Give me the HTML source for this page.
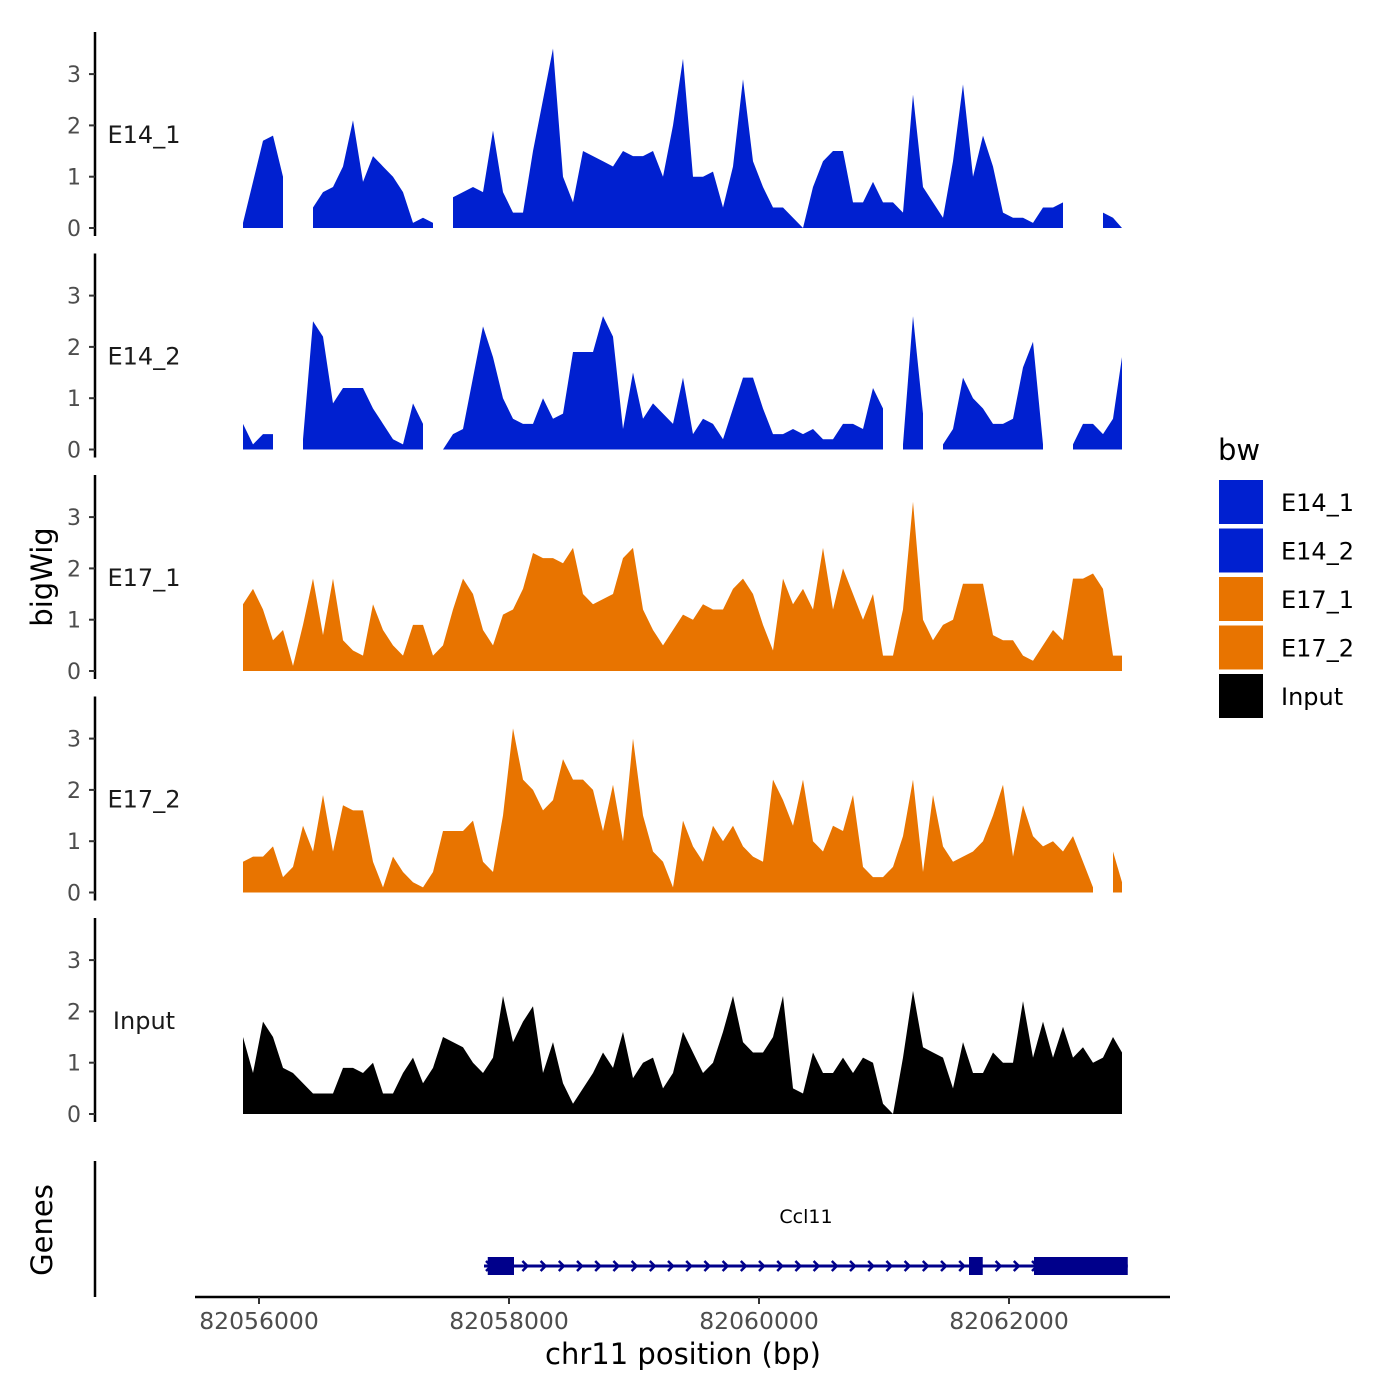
<!DOCTYPE html>
<html><head><meta charset="utf-8"><style>
html,body{margin:0;padding:0;background:#fff;}
svg{display:block;font-family:"DejaVu Sans","Liberation Sans",sans-serif;}
</style></head><body>
<svg id="chart" width="1400" height="1400" viewBox="0 0 1400 1400" xmlns="http://www.w3.org/2000/svg">
<g id="tracks"></g>
<g id="genes"></g>
<g id="xaxis"></g>
<text x="0" y="0" transform="translate(52,577) rotate(-90)" text-anchor="middle" font-size="29" fill="#000">bigWig</text>
<text x="0" y="0" transform="translate(52,1230) rotate(-90)" text-anchor="middle" font-size="29" fill="#000">Genes</text>
<text x="683" y="1364" text-anchor="middle" font-size="29" fill="#000">chr11 position (bp)</text>
<g id="legend"></g>
</svg>
<script>
const NS="http://www.w3.org/2000/svg";
const startBp=82055872, stepBp=80;
const seriesNames=["E14_1","E14_2","E17_1","E17_2","Input"];
const seriesColors=["#0020d0","#0020d0","#e87400","#e87400","#000000"];
const e14_1=[0.1,0.9,1.7,1.8,1.0,null,null,0.4,0.7,0.8,1.2,2.1,0.9,1.4,1.2,1.0,0.7,0.1,0.2,0.1,null,0.6,0.7,0.8,0.7,1.9,0.7,0.3,0.3,1.5,2.5,3.5,1.0,0.5,1.5,1.4,1.3,1.2,1.5,1.4,1.4,1.5,1.0,2.0,3.3,1.0,1.0,1.1,0.4,1.2,2.9,1.3,0.8,0.4,0.4,0.2,0.0,0.8,1.3,1.5,1.5,0.5,0.5,0.9,0.5,0.5,0.3,2.6,0.8,0.5,0.2,1.3,2.8,1.0,1.8,1.2,0.3,0.2,0.2,0.1,0.4,0.4,0.5,null,null,null,0.3,0.2,0.0];
const e14_2=[0.5,0.1,0.3,0.3,null,null,0.2,2.5,2.2,0.9,1.2,1.2,1.2,0.8,0.5,0.2,0.1,0.9,0.5,null,0.0,0.3,0.4,1.4,2.4,1.8,1.0,0.6,0.5,0.5,1.0,0.6,0.7,1.9,1.9,1.9,2.6,2.2,0.4,1.5,0.6,0.9,0.7,0.5,1.4,0.3,0.6,0.5,0.2,0.8,1.4,1.4,0.8,0.3,0.3,0.4,0.3,0.4,0.2,0.2,0.5,0.5,0.4,1.2,0.8,null,0.1,2.6,0.7,null,0.1,0.4,1.4,1.0,0.8,0.5,0.5,0.6,1.6,2.1,0.1,null,null,0.1,0.5,0.5,0.3,0.6,1.8];
const e17_1=[1.3,1.6,1.2,0.6,0.8,0.1,0.9,1.8,0.7,1.8,0.6,0.4,0.3,1.3,0.8,0.5,0.3,0.9,0.9,0.3,0.5,1.2,1.8,1.5,0.8,0.5,1.1,1.2,1.6,2.3,2.2,2.2,2.1,2.4,1.5,1.3,1.4,1.5,2.2,2.4,1.2,0.8,0.5,0.8,1.1,1.0,1.3,1.2,1.2,1.6,1.8,1.5,0.9,0.4,1.8,1.3,1.6,1.2,2.4,1.2,2.0,1.5,1.0,1.5,0.3,0.3,1.2,3.3,1.0,0.6,0.9,1.0,1.7,1.7,1.7,0.7,0.6,0.6,0.3,0.2,0.5,0.8,0.6,1.8,1.8,1.9,1.6,0.3,0.3];
const e17_2=[0.6,0.7,0.7,0.9,0.3,0.5,1.3,0.8,1.9,0.8,1.7,1.6,1.6,0.6,0.1,0.7,0.4,0.2,0.1,0.4,1.2,1.2,1.2,1.4,0.6,0.4,1.5,3.2,2.2,2.0,1.6,1.8,2.6,2.2,2.2,2.0,1.2,2.1,1.0,3.0,1.5,0.8,0.6,0.1,1.4,0.9,0.6,1.3,1.0,1.3,0.9,0.7,0.6,2.2,1.8,1.3,2.2,1.0,0.8,1.3,1.2,1.9,0.5,0.3,0.3,0.5,1.1,2.2,0.4,1.9,0.9,0.6,0.7,0.8,1.0,1.5,2.1,0.7,1.7,1.1,0.9,1.0,0.8,1.1,0.6,0.1,null,0.8,0.2];
const input=[1.5,0.8,1.8,1.5,0.9,0.8,0.6,0.4,0.4,0.4,0.9,0.9,0.8,1.0,0.4,0.4,0.8,1.1,0.6,0.9,1.5,1.4,1.3,1.0,0.8,1.1,2.3,1.4,1.8,2.1,0.8,1.4,0.6,0.2,0.5,0.8,1.2,0.9,1.6,0.7,1.0,1.1,0.5,0.8,1.6,1.2,0.8,1.0,1.6,2.3,1.4,1.2,1.2,1.5,2.3,0.5,0.4,1.2,0.8,0.8,1.1,0.8,1.1,1.0,0.2,0.0,1.1,2.4,1.3,1.2,1.1,0.5,1.4,0.8,0.8,1.2,1.0,1.0,2.2,1.1,1.8,1.1,1.7,1.1,1.3,1.0,1.1,1.5,1.2];
const allSeries=[e14_1,e14_2,e17_1,e17_2,input];
const yTicks=[0,1,2,3];
const xTicks=[82056000,82058000,82060000,82062000];
const xTickLabels=["82056000","82058000","82060000","82062000"];
const geneName="Ccl11";
const geneStart=82057800, geneEnd=82062950;
const exons=[[82057830,82058040],[82061680,82061790],[82062200,82062950]];

function xs(bp){return 259+(bp-82056000)*0.125;}
const unitPx=51.3;
function mk(tag,attrs,parent){const e=document.createElementNS(NS,tag);for(const k in attrs)e.setAttribute(k,attrs[k]);parent.appendChild(e);return e;}

const tracks=document.getElementById('tracks');
allSeries.forEach((vals,si)=>{
  const base=228+si*221.5;
  const ys=v=>base-v*unitPx;
  const g=mk('g',{},tracks);
  
  
  const ax=mk('line',{x1:95,x2:95,y1:base-196,y2:base+8,stroke:'#000','stroke-width':2.5},g);
  
  
  yTicks.forEach(t=>{
    const tk=mk('line',{x1:89,x2:95,y1:ys(t),y2:ys(t),stroke:'#333','stroke-width':2},g);
    
    
    const tl=mk('text',{x:81,y:ys(t)+8,'text-anchor':'end','font-size':22,fill:'#4d4d4d'},g);
    tl.textContent=t;
    
    
  });
  const lab=mk('text',{x:144,y:base-85,'text-anchor':'middle','font-size':24,fill:'#1a1a1a'},g);
  lab.textContent=seriesNames[si];
  
  
  let seg=[];
  const flush=()=>{
    if(seg.length>1){
      let d='M'+seg[0][0]+','+base;
      seg.forEach(p=>{d+=' L'+p[0]+','+p[1];});
      d+=' L'+seg[seg.length-1][0]+','+base+' Z';
      const p=mk('path',{d:d,fill:seriesColors[si]},g);
      
      
    }
    seg=[];
  };
  vals.forEach((v,i)=>{
    const x=Math.min(xs(startBp+i*stepBp),1122);
    if(v===null){flush();}else seg.push([x,ys(v)]);
  });
  flush();
});

const gg=document.getElementById('genes');
const gax=mk('line',{x1:95,x2:95,y1:1161,y2:1297,stroke:'#000','stroke-width':2.5},gg);


const gl=mk('text',{x:806,y:1223,'text-anchor':'middle','font-size':19,fill:'#000'},gg);
gl.textContent=geneName;


const intr=mk('line',{x1:xs(geneStart),x2:xs(geneEnd),y1:1266,y2:1266,stroke:'#00008b','stroke-width':3},gg);


for(let x=xs(geneStart)+2;x<xs(geneEnd)-8;x+=18.2){
  const a=mk('path',{d:`M${x},${1261} L${x+5},${1266} L${x},${1271}`,fill:'none',stroke:'#00008b','stroke-width':2.5},gg);
  
  
}
exons.forEach(e=>{
  const r=mk('rect',{x:xs(e[0]),y:1257,width:xs(e[1])-xs(e[0]),height:18,fill:'#00008b'},gg);
  
  
});

const xa=document.getElementById('xaxis');
const xl=mk('line',{x1:195,x2:1170,y1:1297,y2:1297,stroke:'#000','stroke-width':2.5},xa);


xTicks.forEach((t,i)=>{
  const tk=mk('line',{x1:xs(t),x2:xs(t),y1:1297,y2:1304,stroke:'#333','stroke-width':2},xa);
  
  
  const tl=mk('text',{x:xs(t),y:1329,'text-anchor':'middle','font-size':23.5,fill:'#4d4d4d'},xa);
  tl.textContent=xTickLabels[i];
  
  
});

const lg=document.getElementById('legend');
const lt=mk('text',{x:1218,y:460,'font-size':29,fill:'#000'},lg);
lt.textContent='bw';


seriesNames.forEach((n,i)=>{
  const y=480+i*48.5;
  const r=mk('rect',{x:1219,y:y,width:44,height:44,fill:seriesColors[i]},lg);
  
  
  const t=mk('text',{x:1281,y:y+31,'font-size':24,fill:'#000'},lg);
  t.textContent=n;
  
  
});
</script>
</body></html>
